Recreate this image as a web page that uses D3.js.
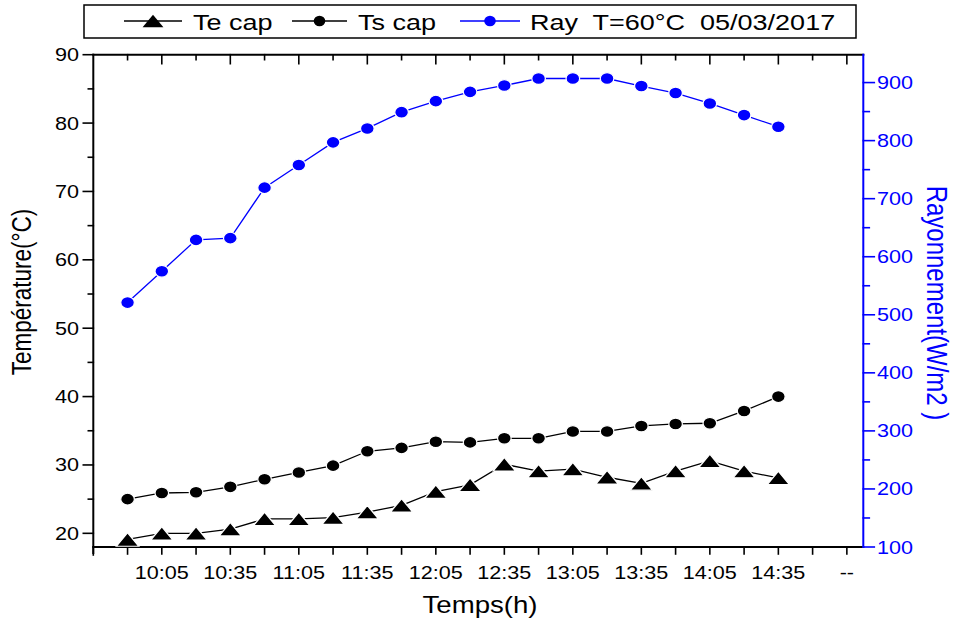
<!DOCTYPE html>
<html>
<head>
<meta charset="utf-8">
<script src="https://cdn.jsdelivr.net/npm/d3@7"></script>
<style>
  body { margin: 0; background: #fff; }
  text { font-family: "Liberation Sans", Arial, sans-serif; }
</style>
</head>
<body>
<svg id="chart"></svg>
<script>
// data (one point every 15 min, index 0 = 09:50)
var steps = d3.range(20);
var tickLabels = ["10:05", "10:35", "11:05", "11:35", "12:05", "12:35", "13:05", "13:35", "14:05", "14:35", "--"];
var teCap = [19.1, 20.0, 20.0, 20.6, 22.1, 22.1, 22.3, 23.1, 24.1, 26.1, 27.1, 30.1, 29.1, 29.4, 28.2, 27.3, 29.1, 30.6, 29.1, 28.1];
var tsCap = [25.0, 25.9, 26.0, 26.8, 27.9, 28.9, 29.9, 32.0, 32.5, 33.4, 33.3, 33.9, 33.9, 34.9, 34.9, 35.7, 36.0, 36.1, 37.9, 40.0];
var ray = [521, 575, 629, 632, 719, 758, 797, 821, 849, 868, 884, 895, 907, 907, 907, 894, 882, 864, 844, 824];
var legendNames = ["Te cap", "Ts cap", "Ray  T=60\u00B0C  05/03/2017"];

var width = 955, height = 626;
var pLeft = 93.3, pRight = 863.3, pTop = 54.7, pBottom = 547;
var sx = 1.2; // the original picture is stretched sideways
var blue = "#0000ff";

var svg = d3.select("#chart").attr("width", width).attr("height", height);

var x = d3.scaleLinear().domain([-1, 21.48]).range([pLeft, pRight]);
var yL = d3.scaleLinear().domain([18, 90]).range([pBottom, pTop]);
var yR = d3.scaleLinear().domain([100, 948]).range([pBottom, pTop]);

function label(g, tx, ty, str, anchor, size, color, rot) {
  return g.append("text")
    .attr("transform", "translate(" + tx + "," + ty + ") scale(" + sx + ",1)" + (rot ? " rotate(" + rot + ")" : ""))
    .attr("text-anchor", anchor)
    .attr("font-size", size)
    .attr("fill", color || "#000")
    .style("white-space", "pre")
    .text(str);
}

function triangle(s) {
  var h = s * 0.9, w = s * 0.62;
  return "M0," + (-h / 2) + "L" + w + "," + (h / 2) + "L" + (-w) + "," + (h / 2) + "Z";
}

// ---- axes ----
var ax = svg.append("g").attr("stroke-linecap", "square");

// top frame
ax.append("line").attr("x1", pLeft).attr("x2", pRight).attr("y1", pTop).attr("y2", pTop)
  .attr("stroke", "#000").attr("stroke-width", 2);
ax.selectAll(".ttop").data(d3.range(0, 22)).enter().append("line")
  .attr("x1", d => x(d)).attr("x2", d => x(d))
  .attr("y1", pTop).attr("y2", d => pTop + (d % 2 ? 9 : 5))
  .attr("stroke", "#000").attr("stroke-width", 1.6);

// bottom axis
ax.append("line").attr("x1", pLeft).attr("x2", pRight).attr("y1", pBottom).attr("y2", pBottom)
  .attr("stroke", "#000").attr("stroke-width", 2);
ax.selectAll(".tbot").data(d3.range(-1, 22)).enter().append("line")
  .attr("x1", d => x(d)).attr("x2", d => x(d))
  .attr("y1", pBottom).attr("y2", d => pBottom + (d === -1 ? 8 : 7))
  .attr("stroke", "#000").attr("stroke-width", 1.6);
tickLabels.forEach(function (t, i) {
  label(svg, x(1 + 2 * i), 579, t, "middle", 18);
});
label(svg, 480, 613, "Temps(h)", "middle", 23);

// left axis
ax.append("line").attr("x1", pLeft).attr("x2", pLeft).attr("y1", pTop).attr("y2", pBottom + 6)
  .attr("stroke", "#000").attr("stroke-width", 2);
ax.selectAll(".tleft").data(d3.range(20, 91, 5)).enter().append("line")
  .attr("x1", pLeft).attr("x2", d => pLeft - (d % 10 ? 5 : 10))
  .attr("y1", d => yL(d)).attr("y2", d => yL(d))
  .attr("stroke", "#000").attr("stroke-width", 1.6);
yL.ticks(8).forEach(function (v) {
  label(svg, 79, yL(v) + 6.5, String(v), "end", 18);
});
label(svg, 31, 292, "Température(°C)", "middle", 22.5, "#000", -90);

// right axis
ax.append("line").attr("x1", pRight).attr("x2", pRight).attr("y1", pTop).attr("y2", pBottom)
  .attr("stroke", blue).attr("stroke-width", 2);
ax.selectAll(".tright").data(d3.range(100, 901, 50)).enter().append("line")
  .attr("x1", pRight).attr("x2", d => pRight + (d % 100 ? 6 : 11))
  .attr("y1", d => yR(d)).attr("y2", d => yR(d))
  .attr("stroke", blue).attr("stroke-width", 1.6);
d3.range(100, 901, 100).forEach(function (v) {
  label(svg, 877, yR(v) + 6.5, String(v), "start", 18, blue);
});
label(svg, 927, 303, "Rayonnement(W/m2 )", "middle", 24, blue, 90);

// ---- series ----
function series(vals, scale, color, shape) {
  var g = svg.append("g");
  g.append("path")
    .datum(steps)
    .attr("fill", "none")
    .attr("stroke", color)
    .attr("stroke-width", 1.3)
    .attr("d", d3.line().x(d => x(d)).y(d => scale(vals[d])));
  var m = g.selectAll(".m").data(steps).enter();
  if (shape === "tri") {
    m.append("path")
      .attr("transform", d => "translate(" + x(d) + "," + scale(vals[d]) + ") scale(" + sx + ",1)")
      .attr("d", triangle(15))
      .attr("fill", color).attr("stroke", "#fff").attr("stroke-width", 1.2);
  } else {
    m.append("ellipse")
      .attr("cx", d => x(d)).attr("cy", d => scale(vals[d]))
      .attr("rx", 6.8).attr("ry", 5.9)
      .attr("fill", color).attr("stroke", "#fff").attr("stroke-width", 1.2);
  }
}
series(ray, yR, blue, "circle");
series(tsCap, yL, "#000", "circle");
series(teCap, yL, "#000", "tri");

// ---- legend ----
var lg = svg.append("g");
lg.append("rect").attr("x", 84).attr("y", 5).attr("width", 772).attr("height", 33)
  .attr("fill", "#fff").attr("stroke", "#000").attr("stroke-width", 1.5);
var legendX = [[124, 182, 193], [292, 347, 358], [460, 520, 530]];
var legendColor = ["#000", "#000", blue];
legendNames.forEach(function (n, i) {
  var p = legendX[i], c = (p[0] + p[1]) / 2;
  lg.append("line").attr("x1", p[0]).attr("x2", p[1]).attr("y1", 21).attr("y2", 21)
    .attr("stroke", legendColor[i]).attr("stroke-width", 1.3);
  if (i === 0) {
    lg.append("path").attr("transform", "translate(" + c + ",21) scale(" + sx + ",1)")
      .attr("d", triangle(14)).attr("fill", "#000");
  } else {
    lg.append("ellipse").attr("cx", c).attr("cy", 21).attr("rx", 5.8).attr("ry", 5.2)
      .attr("fill", legendColor[i]);
  }
  label(lg, p[2], 30, n, "start", 22.5);
});
</script>
</body>
</html>
